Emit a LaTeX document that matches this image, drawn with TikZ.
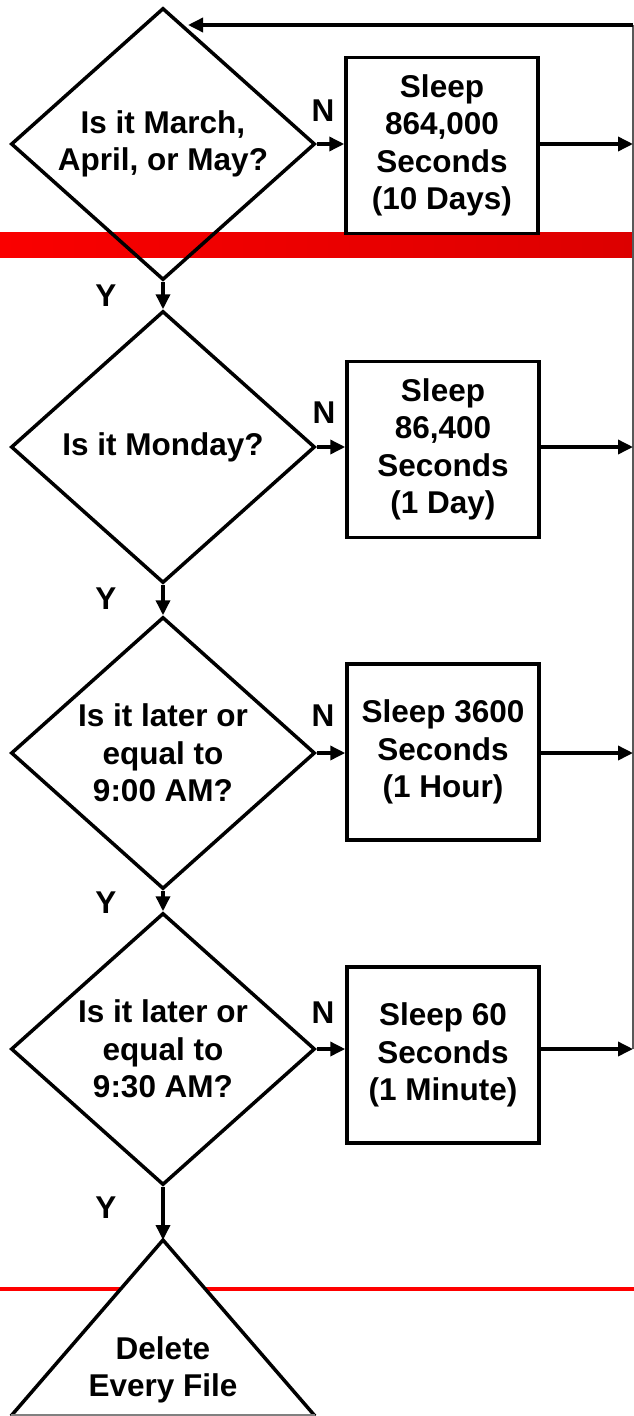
\documentclass[tikz,border=0pt]{standalone}
\usepackage{fontspec}
\setmainfont{Liberation Sans}
\usetikzlibrary{shapes.geometric,arrows.meta}
\definecolor{darkred}{RGB}{220,0,0}
\definecolor{brightred}{RGB}{250,0,0}
\begin{document}
\begin{tikzpicture}[x=1pt,y=-1pt,
  txt/.style={font=\fontsize{31.5}{37.5}\bfseries\selectfont,align=center},
  dec/.style={txt,diamond,draw,line width=3.5pt,inner sep=0pt,shape aspect=1.1176,
    minimum width=304pt,minimum height=272pt},
  sleepbox/.style={txt,rectangle,draw,line width=3.5pt,fill=white,inner sep=0pt,
    minimum width=192pt,minimum height=176pt},
  conn/.style={line width=3.5pt,-{Triangle[length=15pt,width=14pt]}},
  lbl/.style={txt,inner sep=0pt}]
\useasboundingbox (0,0) rectangle (634,1416);
% red bands
\shade[left color=brightred,right color=darkred] (0,232) rectangle (634,257);
\draw[red,line width=4.5pt] (0,1289) -- (634,1289);
% decisions
\node[dec] (d1) at (163,144) {Is it March,\\April, or May?};
\node[dec] (d2) at (163,447) {Is it Monday?};
\node[dec] (d3) at (163,753) {Is it later or\\equal to\\9:00 AM?};
\node[dec] (d4) at (163,1049) {Is it later or\\equal to\\9:30 AM?};
% sleep boxes
\node[sleepbox] (b1) at (442,145.5) {Sleep\\864,000\\Seconds\\(10 Days)};
\node[sleepbox] (b2) at (443,449.5) {Sleep\\86,400\\Seconds\\(1 Day)};
\node[sleepbox] (b3) at (443,752) {Sleep 3600\\Seconds\\(1 Hour)};
\node[sleepbox] (b4) at (443,1055) {Sleep 60\\Seconds\\(1 Minute)};
% final triangle
\fill[white] (11,1416) -- (163,1240) -- (315,1416) -- cycle;
\draw[line width=3.5pt,line join=miter] (11,1416) -- (163,1240) -- (315,1416);
\draw[gray,line width=1.5pt] (11,1415) -- (315,1415);
\coordinate (apex) at (163,1240);
\node[lbl] (del) at (163,1370) {Delete\\Every File};
% return line
\coordinate (rtop) at (633,25);
\coordinate (ret) at (188,25);
\coordinate (r1) at (633,144);
\coordinate (r2) at (633,447);
\coordinate (r3) at (633,753);
\coordinate (r4) at (633,1049);
\draw[gray!70!black,line width=1.5pt] (r4) -- (rtop);
\draw[conn] (rtop) -- (ret);
% N branches
\foreach \i in {1,2,3,4}{
  \draw[conn] (d\i.east) -- (d\i.east -| b\i.west);
  \draw[conn] (d\i.east -| b\i.east) -- (r\i);
}
% Y branches
\draw[conn] (d1.south) -- (d2.north);
\draw[conn] (d2.south) -- (d3.north);
\draw[conn] (d3.south) -- (d4.north);
\draw[conn] (d4.south) -- (apex);
% labels
\node[lbl] (n1) at (323,111) {N};
\node[lbl] (n2) at (324,413) {N};
\node[lbl] (n3) at (323,716) {N};
\node[lbl] (n4) at (323,1013) {N};
\node[lbl] (y1) at (106,296) {Y};
\node[lbl] (y2) at (106,599) {Y};
\node[lbl] (y3) at (106,903) {Y};
\node[lbl] (y4) at (106,1208) {Y};
\end{tikzpicture}
\end{document}
